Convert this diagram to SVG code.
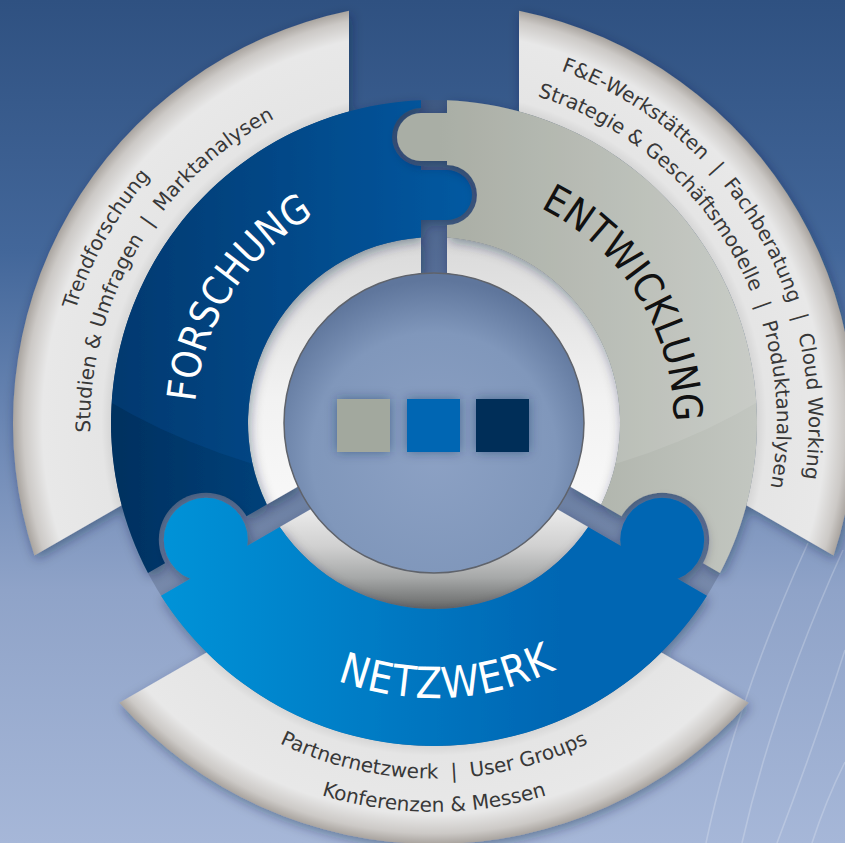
<svg xmlns="http://www.w3.org/2000/svg" width="845" height="843" viewBox="0 0 845 843">
<style>
.big{font-family:'DejaVu Sans Condensed','DejaVu Sans',sans-serif;font-stretch:condensed;text-anchor:middle}
.small{font-family:'DejaVu Sans',sans-serif;font-size:20px;fill:#383838;text-anchor:middle}
.deco{fill:none;stroke:#ffffff;stroke-opacity:0.22;stroke-width:1.6}
</style>
<defs>
<linearGradient id="gBg" x1="0" y1="0" x2="0" y2="843" gradientUnits="userSpaceOnUse">
<stop offset="0" stop-color="#2f5181"/><stop offset="0.3" stop-color="#43679a"/><stop offset="0.5" stop-color="#6a86b3"/><stop offset="0.7" stop-color="#8fa3c8"/><stop offset="1" stop-color="#a6b7d8"/>
</linearGradient>
<linearGradient id="gDisc" x1="0" y1="100" x2="0" y2="620" gradientUnits="userSpaceOnUse">
<stop offset="0" stop-color="#3e5983"/><stop offset="0.4" stop-color="#5a719a"/><stop offset="0.8" stop-color="#6f83a6"/><stop offset="1" stop-color="#7a8cad"/>
</linearGradient>
<radialGradient id="gInner" cx="434" cy="455" r="175" gradientUnits="userSpaceOnUse">
<stop offset="0" stop-color="#8ca1c4"/><stop offset="0.7" stop-color="#8097bb"/><stop offset="1" stop-color="#5f769c"/>
</radialGradient>
<radialGradient id="gGray" cx="434" cy="423" r="421" gradientUnits="userSpaceOnUse">
<stop offset="0.767" stop-color="#d6d6d6"/><stop offset="0.79" stop-color="#e5e5e5"/><stop offset="0.93" stop-color="#e8e8e8"/><stop offset="0.975" stop-color="#ccc9c6"/><stop offset="1" stop-color="#a9a49f"/>
</radialGradient>
<linearGradient id="gSilT" x1="0" y1="237" x2="0" y2="505" gradientUnits="userSpaceOnUse">
<stop offset="0" stop-color="#d9d9d9"/><stop offset="0.6" stop-color="#f2f2f2"/><stop offset="1" stop-color="#f8f8f8"/>
</linearGradient>
<linearGradient id="gSilB" x1="0" y1="505" x2="0" y2="609" gradientUnits="userSpaceOnUse">
<stop offset="0" stop-color="#eeeeee"/><stop offset="0.4" stop-color="#d0d0d0"/><stop offset="0.7" stop-color="#a6a8a8"/><stop offset="1" stop-color="#656767"/>
</linearGradient>
<linearGradient id="gF" x1="110" y1="0" x2="470" y2="0" gradientUnits="userSpaceOnUse">
<stop offset="0" stop-color="#00305f"/><stop offset="1" stop-color="#00569b"/>
</linearGradient>
<linearGradient id="gE" x1="440" y1="0" x2="760" y2="0" gradientUnits="userSpaceOnUse">
<stop offset="0" stop-color="#a0a59b"/><stop offset="1" stop-color="#c3c7c1"/>
</linearGradient>
<linearGradient id="gN" x1="160" y1="0" x2="560" y2="0" gradientUnits="userSpaceOnUse">
<stop offset="0" stop-color="#0093d8"/><stop offset="1" stop-color="#0066b3"/>
</linearGradient>
<filter id="sh" x="-15%" y="-15%" width="130%" height="130%">
<feGaussianBlur in="SourceAlpha" stdDeviation="6"/>
<feOffset dx="2" dy="4" result="b"/>
<feFlood flood-color="#0c1e3c" flood-opacity="0.4"/>
<feComposite in2="b" operator="in"/>
<feMerge><feMergeNode/><feMergeNode in="SourceGraphic"/></feMerge>
</filter>
<filter id="sq" x="-50%" y="-50%" width="200%" height="200%">
<feFlood flood-color="#1c2f52" flood-opacity="0.45"/>
<feComposite operator="in" in2="SourceAlpha" result="x"/>
<feGaussianBlur in="x" stdDeviation="6"/>
<feMerge><feMergeNode/><feMergeNode in="SourceGraphic"/></feMerge>
</filter>
<path id="pF" d="M 266.81 504.52 L 148.01 573.11 A 323 323 0 0 1 421 100.26 L 421 237.45 A 186 186 0 0 0 266.81 504.52 Z"/>
<path id="pE" d="M 447 237.45 L 447 100.26 A 323 323 0 0 1 719.99 573.11 L 601.19 504.52 A 186 186 0 0 0 447 237.45 Z"/>
<path id="pN" d="M 588.19 527.04 L 706.99 595.63 A 323 323 0 0 1 161.01 595.63 L 279.81 527.04 A 186 186 0 0 0 588.19 527.04 Z"/>
<path id="kE" d="M 448 113 L 421 113 A 24 24 0 0 0 421 161 L 448 161 Z"/>
<path id="kF" d="M 420 170 L 447 170 A 25 25 0 0 1 447 220 L 420 220 Z"/>
<mask id="mF" maskUnits="userSpaceOnUse" x="0" y="0" width="845" height="843">
<rect width="845" height="843" fill="#fff"/>
<circle cx="421" cy="137" r="29" fill="#000"/>
<circle cx="205.8" cy="539.7" r="47" fill="#000"/>
</mask>
<mask id="mE" maskUnits="userSpaceOnUse" x="0" y="0" width="845" height="843">
<rect width="845" height="843" fill="#fff"/>
<circle cx="447" cy="195" r="30" fill="#000"/>
<circle cx="662.2" cy="539.7" r="47" fill="#000"/>
</mask>
<mask id="mFg" maskUnits="userSpaceOnUse" x="0" y="0" width="845" height="843">
<use href="#pF" fill="#fff" mask="url(#mF)"/>
<use href="#kF" fill="#fff"/>
</mask>
<mask id="mEg" maskUnits="userSpaceOnUse" x="0" y="0" width="845" height="843">
<use href="#pE" fill="#fff" mask="url(#mE)"/>
<use href="#kE" fill="#fff"/>
</mask>
<path id="tF" d="M 271.9 599.9 A 240 240 0 0 1 525.8 201.3"/>
<path id="tE" d="M 344.1 200.5 A 240 240 0 0 1 594.6 601.3"/>
<path id="tN" d="M 166 484.9 A 275 275 0 0 0 706.9 456.5"/>
<path id="tF1" d="M 222.1 733.6 A 376 376 0 0 1 588.7 80.3"/>
<path id="tF2" d="M 234.7 703.4 A 344 344 0 0 1 581.5 112.3"/>
<path id="tE1" d="M 253.3 94.4 A 375 375 0 0 1 637.1 738.2"/>
<path id="tE2" d="M 269.2 123.3 A 342 342 0 0 1 619.3 710.5"/>
<path id="tN1" d="M 79.4 454.1 A 356 356 0 0 0 788.6 454.1"/>
<path id="tN2" d="M 46.5 456.9 A 389 389 0 0 0 821.5 456.9"/>
</defs>

<rect width="845" height="843" fill="url(#gBg)"/>
<g id="background-lines">
<path class="deco" d="M 808 543 Q 736 701 706 843"/>
<path class="deco" d="M 843 550 Q 773.5 703.5 742 843"/>
<path class="deco" d="M 845 650 Q 815 743.5 777 843"/>
<path class="deco" d="M 845 762 Q 826 800 812 843"/>
</g>

<circle id="gap-disc" cx="434" cy="423" r="323" fill="url(#gDisc)"/>

<g id="hub">
<g filter="url(#sh)">
<path d="M 298.08 486.46 L 266.81 504.52 A 186 186 0 0 1 421 237.45 L 421 273.56 A 150 150 0 0 0 298.08 486.46 Z" fill="url(#gSilT)"/>
<path d="M 447 273.56 L 447 237.45 A 186 186 0 0 1 601.19 504.52 L 569.92 486.46 A 150 150 0 0 0 447 273.56 Z" fill="url(#gSilT)"/>
<path d="M 556.92 508.98 L 588.19 527.04 A 186 186 0 0 1 279.81 527.04 L 311.08 508.98 A 150 150 0 0 0 556.92 508.98 Z" fill="url(#gSilB)"/>
</g>
<circle cx="434" cy="423" r="150" fill="url(#gInner)" stroke="#5f636b" stroke-width="1.5"/>
<g filter="url(#sq)">
<rect x="337" y="399" width="53" height="53" fill="#a2a89e"/>
<rect x="407" y="399" width="53" height="53" fill="#0066b3"/>
<rect x="476" y="399" width="53" height="53" fill="#002d59"/>
</g>
</g>

<g id="forschung">
<g filter="url(#sh)">
<path d="M 121.65 505.19 L 34.42 555.56 A 421 421 0 0 1 349 10.67 L 349 111.4 A 323 323 0 0 0 121.65 505.19 Z" fill="url(#gGray)"/>
<use href="#pF" fill="url(#gF)" mask="url(#mF)"/>
<use href="#kF" fill="url(#gF)"/>
</g>
<circle cx="434" cy="-150" r="640" fill="#0a6cc6" fill-opacity="0.16" mask="url(#mFg)"/>
<text class="big" font-size="40" fill="#ffffff"><textPath href="#tF" startOffset="50%">FORSCHUNG</textPath></text>
<text class="small"><textPath href="#tF1" startOffset="50%">Trendforschung</textPath></text>
<text class="small"><textPath href="#tF2" startOffset="50%">Studien &amp; Umfragen&#160;&#160;|&#160;&#160;Marktanalysen</textPath></text>
</g>

<g id="entwicklung">
<g filter="url(#sh)">
<path d="M 519 111.4 L 519 10.67 A 421 421 0 0 1 833.58 555.56 L 746.35 505.19 A 323 323 0 0 0 519 111.4 Z" fill="url(#gGray)"/>
<use href="#pE" fill="url(#gE)" mask="url(#mE)"/>
<use href="#kE" fill="url(#gE)"/>
</g>
<circle cx="434" cy="-150" r="640" fill="#ffffff" fill-opacity="0.1" mask="url(#mEg)"/>
<text class="big" font-size="40" fill="#111111"><textPath href="#tE" startOffset="50%">ENTWICKLUNG</textPath></text>
<text class="small"><textPath href="#tE1" startOffset="50%">F&amp;E-Werkstätten&#160;&#160;|&#160;&#160;Fachberatung&#160;&#160;|&#160;&#160;Cloud Working</textPath></text>
<text class="small"><textPath href="#tE2" startOffset="50%">Strategie &amp; Geschäftsmodelle&#160;&#160;|&#160;&#160;Produktanalysen</textPath></text>
</g>

<g id="netzwerk">
<g filter="url(#sh)">
<path d="M 661.35 652.41 L 748.58 702.78 A 421 421 0 0 1 119.42 702.78 L 206.65 652.41 A 323 323 0 0 0 661.35 652.41 Z" fill="url(#gGray)"/>
<use href="#pN" fill="url(#gN)"/>
<circle cx="205.8" cy="539.7" r="42" fill="url(#gN)"/>
<circle cx="662.2" cy="539.7" r="42" fill="url(#gN)"/>
</g>
<text class="big" font-size="43" letter-spacing="1" fill="#ffffff"><textPath href="#tN" startOffset="50%">NETZWERK</textPath></text>
<text class="small"><textPath href="#tN1" startOffset="50%">Partnernetzwerk&#160;&#160;|&#160;&#160;User Groups</textPath></text>
<text class="small"><textPath href="#tN2" startOffset="50%">Konferenzen &amp; Messen</textPath></text>
</g>
</svg>
